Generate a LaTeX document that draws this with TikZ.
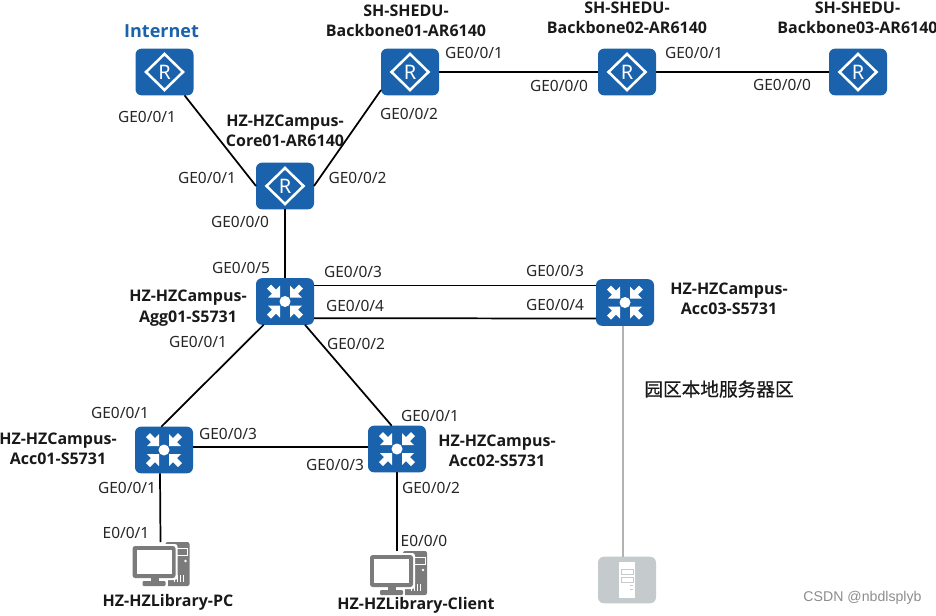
\documentclass[tikz,border=0pt]{standalone}
\usepackage{fontspec}
\setmainfont{Noto Sans}
\newfontfamily\namefont{Open Sans}
\newfontfamily\cjkfont{Noto Sans CJK SC}[FakeBold=0.5]
\newfontfamily\markfont{Liberation Sans}
\definecolor{hwblue}{HTML}{1A62AC}
\definecolor{pcgray}{HTML}{7B7B7B}
\definecolor{srvgray}{HTML}{C5CACC}
\tikzset{
  x=0.75pt,y=-0.75pt,
  netbox/.style={fill=hwblue,rounded corners=4.5pt,minimum width=43.5pt,minimum height=35pt,inner sep=0pt,outer sep=0pt},
  srvbox/.style={fill=srvgray,rounded corners=4.5pt,minimum width=43.5pt,minimum height=35pt,inner sep=0pt,outer sep=0pt},
  pcbox/.style={minimum width=43.5pt,minimum height=33pt,inner sep=0pt,outer sep=0pt},
  port/.style={font=\fontsize{11.6pt}{14pt}\selectfont,text=black!85,inner sep=0pt},
  devname/.style={font=\fontsize{12pt}{15.2pt}\namefont\bfseries,text=black!90,inner sep=0pt,align=center},
  link/.style={draw=black,line width=1.3pt},
  glink/.style={draw=black!30,line width=1.3pt},
  routerglyph/.pic={
    \draw[white,line width=1.9pt,line join=miter] (0,-18)--(18.5,0)--(0,18)--(-18.5,0)--cycle;
    \node[text=white,inner sep=0pt,font=\fontsize{15pt}{15pt}\selectfont] at (0,0) {R};
  },
  switchglyph/.pic={
    \fill[white] (0,0) circle[radius=5.5];
    \foreach \sx/\sy in {1/1,-1/1,1/-1,-1/-1}{
      \fill[white] (\sx*5,\sy*4)--(\sx*5,\sy*16)--(\sx*9,\sy*12)--(\sx*14,\sy*17)--(\sx*18,\sy*13)--(\sx*13,\sy*8)--(\sx*17,\sy*4)--cycle;
    }
  },
  pcglyph/.pic={
    \fill[pcgray,rounded corners=1.5pt] (5,-22) rectangle (29,22);
    \draw[white,line width=.6pt] (15,-16) rectangle (27,-9);
    \fill[white] (25,-3) circle[radius=1.4];
    \foreach \q in {13,16,19,22}{\fill[white] (\q,11) rectangle ++(1.4,7);}
    \fill[white,rounded corners=2pt] (-30,-20) rectangle (17,16);
    \fill[pcgray,rounded corners=2pt] (-28,-18) rectangle (15,14);
    \fill[white] (-24,-14) rectangle (11,10);
    \fill[white] (-20,15) rectangle (7,23);
    \fill[pcgray] (-10,14) rectangle (-2,18);
    \fill[pcgray,rounded corners=.8pt] (-18,17) rectangle (5,22);
  },
  serverglyph/.pic={
    \fill[white] (-8,-18) rectangle (8,18);
    \draw[srvgray,line width=.6pt] (-6,-11) rectangle (6,-6);
    \draw[srvgray,line width=.6pt] (-6,-3) rectangle (6,2);
    \fill[srvgray] (3,5) rectangle (6,6);
    \fill[srvgray] (3,9) rectangle (6,10);
  }
}
\begin{document}
\begin{tikzpicture}
\useasboundingbox (0,0) rectangle (936,615);
% devices
\node[netbox] (inet) at (164.5,72) {};
\node[netbox] (bb1) at (410,72) {};
\node[netbox] (bb2) at (627,72) {};
\node[netbox] (bb3) at (858,72) {};
\node[netbox] (core) at (285,186) {};
\node[netbox] (agg) at (285,301.5) {};
\node[netbox] (acc3) at (625,302.5) {};
\node[netbox] (acc1) at (164,450) {};
\node[netbox] (acc2) at (397,449) {};
\node[pcbox] (pc) at (160.5,564) {};
\node[pcbox] (client) at (398,573) {};
\node[srvbox] (srv) at (627,580) {};
\foreach \n in {inet,bb1,bb2,bb3,core}{\pic at (\n) {routerglyph};}
\foreach \n in {agg,acc3,acc1,acc2}{\pic at (\n) {switchglyph};}
\pic at (pc) {pcglyph};
\pic at (client) {pcglyph};
\pic at (srv) {serverglyph};
% connectors
\draw[link] ([xshift=15pt]inet.south) -- (core.west);
\draw[link] (core.east) -- ([yshift=-13.5pt]bb1.west);
\draw[link] (bb1.east) -- (bb2.west);
\draw[link] (bb2.east) -- (bb3.west);
\draw[link] (core.south) -- (agg.north);
\draw[link] ([yshift=12pt]agg.east) -- ([yshift=12.75pt]acc3.west);
\draw[link] ([yshift=-12.5pt]agg.east) -- ([yshift=-12pt]acc3.west);
\draw[link] ([xshift=-16pt]agg.south) -- ([xshift=-2pt]acc1.north);
\draw[link] ([xshift=15pt]agg.south) -- ([xshift=-4pt]acc2.north);
\draw[link] ([yshift=2.25pt]acc1.east) -- ([yshift=1.5pt]acc2.west);
\draw[link] ([xshift=-3pt]acc1.south) -- (pc.north);
\draw[link] (acc2.south) -- ([xshift=-.75pt]client.north);
\draw[glink] ([xshift=-1.5pt]acc3.south) -- ([xshift=-3pt]srv.north);
% names
\node[devname,text=hwblue,font=\fontsize{13.5pt}{15pt}\namefont\bfseries] (nInet) at (161.5,31) {Internet};
\node[devname] (nb1) at (406,20.5) {SH-SHEDU-\\Backbone01-AR6140};
\node[devname] (nb2) at (627,17.5) {SH-SHEDU-\\Backbone02-AR6140};
\node[devname] (nb3) at (857.5,17.5) {SH-SHEDU-\\Backbone03-AR6140};
\node[devname] (ncore) at (285,131) {HZ-HZCampus-\\Core01-AR6140};
\node[devname] (nagg) at (188,308) {HZ-HZCampus-\\Agg01-S5731};
\node[devname] (nacc3) at (729,299) {HZ-HZCampus-\\Acc03-S5731};
\node[devname] (nacc1) at (58,449) {HZ-HZCampus-\\Acc01-S5731};
\node[devname] (nacc2) at (497,451) {HZ-HZCampus-\\Acc02-S5731};
\node[devname] (npc) at (168,602) {HZ-HZLibrary-PC};
\node[devname] (ncl) at (416,605) {HZ-HZLibrary-Client};
\node[devname,font=\fontsize{14pt}{15pt}\cjkfont] (nsrv) at (719,389) {园区本地服务器区};
\node[inner sep=0pt,text=black!45,font=\fontsize{10.6pt}{12pt}\markfont] (wm) at (862.5,598) {CSDN @nbdlsplyb};
% ports
\node[port] (p1) at (147,117) {GE0/0/1};
\node[port] (p2) at (207,178) {GE0/0/1};
\node[port] (p3) at (357.5,178) {GE0/0/2};
\node[port] (p4) at (409,114) {GE0/0/2};
\node[port] (p5) at (474,53) {GE0/0/1};
\node[port] (p6) at (559,86) {GE0/0/0};
\node[port] (p7) at (694,53) {GE0/0/1};
\node[port] (p8) at (782,85) {GE0/0/0};
\node[port] (p9) at (240,222) {GE0/0/0};
\node[port] (p10) at (241,268) {GE0/0/5};
\node[port] (p11) at (353,272) {GE0/0/3};
\node[port] (p12) at (355,306) {GE0/0/4};
\node[port] (p13) at (555,271) {GE0/0/3};
\node[port] (p14) at (555,305) {GE0/0/4};
\node[port] (p15) at (198,342) {GE0/0/1};
\node[port] (p16) at (356,344) {GE0/0/2};
\node[port] (p17) at (120,413) {GE0/0/1};
\node[port] (p18) at (430,416) {GE0/0/1};
\node[port] (p19) at (228,434) {GE0/0/3};
\node[port] (p20) at (335,465) {GE0/0/3};
\node[port] (p21) at (127,488) {GE0/0/1};
\node[port] (p22) at (431,488) {GE0/0/2};
\node[port] (p23) at (126,533) {E0/0/1};
\node[port] (p24) at (424,541) {E0/0/0};
\end{tikzpicture}
\end{document}
